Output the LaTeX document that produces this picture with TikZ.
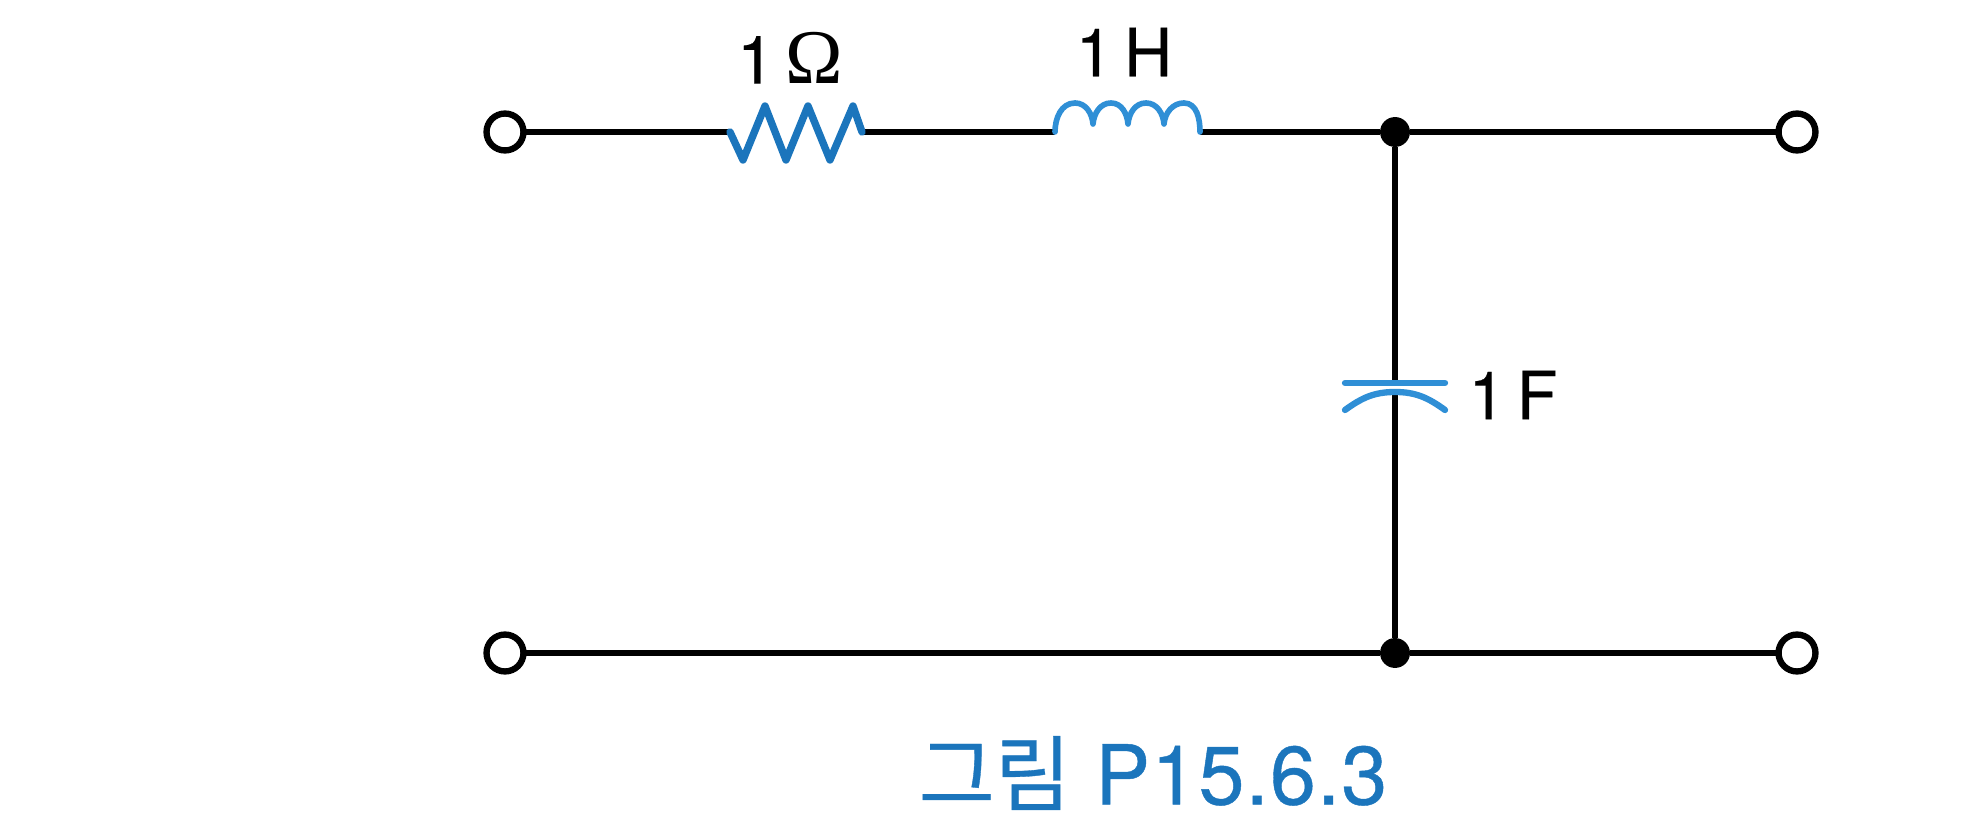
\documentclass[tikz,border=0pt]{standalone}
\usepackage{fontspec}
\setmainfont{TeX Gyre Heros}
\newfontfamily\krfont[FakeBold=0.4]{Noto Sans CJK KR}
\newfontfamily\serffont{Liberation Serif}
\newfontfamily\valfont[FakeBold=0.3]{TeX Gyre Heros}
\newfontfamily\capfont[FakeBold=0.5,LetterSpace=1.5]{TeX Gyre Heros}
\definecolor{partblue}{HTML}{1B75BC}
\definecolor{lightblue}{HTML}{2F8FD6}
\begin{document}
\begin{tikzpicture}[x=0.01cm,y=0.01cm,line width=1.8pt,
	term node/.style = {circle,draw,fill=white,inner sep = 0pt,outer sep = 0pt,minimum size = 10.5pt},
	dot node/.style = {circle,fill=black,inner sep = 0pt,outer sep = 0pt,minimum size = 8.5pt},
	value/.style = {inner sep = 0pt,font=\fontsize{19}{19}\selectfont\valfont},
	part/.style = {line join=round,line cap=round}]
	\useasboundingbox (0,0) rectangle (1981,833);
	
	\node[term node] (tl) at (505,701) {};
	\node[term node] (tr) at (1797,701) {};
	\node[term node] (bl) at (505,180) {};
	\node[term node] (br) at (1797,180) {};
	\node[dot node] (jt) at (1395,701) {};
	\node[dot node] (jb) at (1395,180) {};
	
	\coordinate (r1) at (730,701);
	\coordinate (r2) at (862,701);
	\coordinate (l1) at (1055,701);
	\coordinate (l2) at (1200,701);
	\coordinate (c1) at (1395,450);
	\coordinate (c2) at (1395,441);
	
	\node[value] (lr) at (790,775) {1\,{\serffont\fontsize{22}{22}\selectfont\char"03A9}};
	\node[value] (ll) at (1124,781) {1\,H};
	\node[value] (lc) at (1513,438) {1\,F};
	\node[inner sep = 0pt,text=partblue,font=\fontsize{23.5}{23.5}\selectfont\capfont] (cap) at (1153,60) {{\krfont 그림} P15.6.3};
	
	\path[draw]
	(tl) -- (r1)
	(r2) -- (l1)
	(l2) -- (jt) -- (tr)
	(jt) -- (c1)
	(c2) -- (jb)
	(bl) -- (jb) -- (br);
	
	\draw[part,partblue,line width=2.1pt] (r1) -- (743,673) -- (765,727) -- (786,673) -- (808,727) -- (830,673) -- (853,727) -- (r2);
	\draw[part,lightblue,line width=1.6pt] (l1) to[out=90,in=180] (1075,730) to[out=0,in=95] (1093,709)
	to[out=85,in=180] (1111,730) to[out=0,in=95] (1128,709)
	to[out=85,in=180] (1146,730) to[out=0,in=95] (1164,709)
	to[out=85,in=180] (1184,730) to[out=0,in=90] (l2);
	\draw[part,lightblue] (1345,450) -- (1445,450);
	\draw[part,lightblue] (1345,423) to[out=36,in=180] (c2) to[out=0,in=144] (1445,423);
	\end{tikzpicture}
\end{document}
